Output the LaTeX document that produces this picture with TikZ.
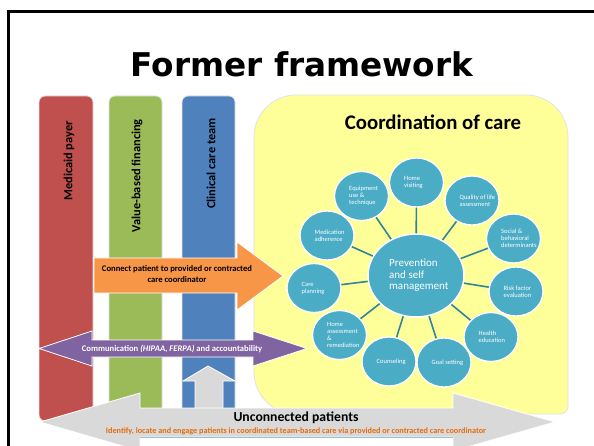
\documentclass[tikz,border=0pt]{standalone}
\usepackage{fontspec}
\setmainfont{Carlito}
\newfontfamily\titlefont{DejaVu Sans}
\usetikzlibrary{shapes.geometric}
\definecolor{cred}{HTML}{C0504D}
\definecolor{cgreen}{HTML}{9BBB59}
\definecolor{cblue}{HTML}{4F81BD}
\definecolor{corange}{HTML}{F79646}
\definecolor{cpurple}{HTML}{8064A2}
\definecolor{cteal}{HTML}{4BACC6}
\definecolor{cline}{HTML}{31849B}
\definecolor{cyellow}{HTML}{FFFF99}
\definecolor{cgray}{HTML}{D9D9D9}
\definecolor{ctxtorange}{HTML}{E46C0A}
\definecolor{cedge}{HTML}{E2E2E2}
\tikzset{
  barbox/.style={draw=cedge, line width=0.8, rounded corners=6},
  bartext/.style={font=\fontsize{12.4}{14}\selectfont\bfseries, rotate=90, anchor=east, inner sep=0},
  blockarrow/.style={draw=white, line width=0.8},
  bigcirc/.style={ellipse, fill=cteal, draw=white, line width=1.5, minimum width=96, minimum height=83, inner sep=0},
  smallcirc/.style={ellipse, fill=cteal, draw=white, line width=1.3, minimum width=54, minimum height=49, inner sep=0},
  conn/.style={draw=cline, line width=1.6},
  ctext/.style={font=\fontsize{6.5}{7}\selectfont, text=white, align=left, anchor=west, inner sep=0},
  arrowtext/.style={font=\fontsize{8.6}{11}\selectfont\bfseries, align=center, inner sep=0}
}
\begin{document}
\begin{tikzpicture}[x=1pt,y=-1pt]
\useasboundingbox (0,0) rectangle (594,446);
\clip (0,0) rectangle (594,446);
\fill[white] (0,0) rectangle (594,446);
% frame
\draw[line width=2.5] (8.5,11.5) rectangle (620,470);
% title
\node[font=\titlefont\bfseries\fontsize{32.7}{36}\selectfont, anchor=base, inner sep=0] (title) at (302,77) {Former framework};
% bars
\path[barbox, fill=cred] (39,96) rectangle (93,421);
\path[barbox, fill=cgreen] (109,96) rectangle (162,418);
\path[barbox, fill=cblue] (182,96) rectangle (235,418);
\node[bartext] (t1) at (69,121) {Medicaid payer};
\node[bartext] (t2) at (137,119) {Value-based financing};
\node[bartext] (t3) at (211,118) {Clinical care team};
% yellow panel
\path[fill=cyellow, draw=cedge, line width=0.8]
  (254,137) arc[start angle=180, end angle=270, radius=42]
  -- (526,95) arc[start angle=270, end angle=360, radius=42]
  -- (568,406) arc[start angle=0, end angle=90, radius=8]
  -- (296,414) arc[start angle=90, end angle=180, radius=42] -- cycle;
\node[font=\fontsize{20.8}{24}\selectfont\bfseries, anchor=base, inner sep=0] (coord) at (433,130) {Coordination of care};
% circles
\node[bigcirc] (c) at (416,275.5) {};
\node[smallcirc] (n1) at (416.5,182.5) {};
\node[smallcirc] (n2) at (361.5,196) {};
\node[smallcirc] (n3) at (472,200.5) {};
\node[smallcirc] (n4) at (327,235.5) {};
\node[smallcirc] (n5) at (513.5,238.5) {};
\node[smallcirc] (n6) at (314,288) {};
\node[smallcirc] (n7) at (516,291.5) {};
\node[smallcirc] (n8) at (339.5,335) {};
\node[smallcirc] (n9) at (389,361.5) {};
\node[smallcirc] (n10) at (444,362.5) {};
\node[smallcirc] (n11) at (491,337) {};
\foreach \n in {n1,n2,n3,n4,n5,n6,n7,n8,n9,n10,n11} {\draw[conn] (c) -- (\n);}
\node[font=\fontsize{11}{11.5}\selectfont, text=white, align=left, anchor=west, inner sep=0] (ct) at ([xshift=-27]c.center) {Prevention\\and self\\management};
\node[ctext] (l1) at ([xshift=-12.5]n1.center) {Home\\visiting};
\node[ctext] (l2) at ([xshift=-12.5]n2.center) {Equipment\\use \&\\technique};
\node[ctext] (l3) at ([xshift=-12.5]n3.center) {Quality of life\\assessment};
\node[ctext] (l4) at ([xshift=-12.5]n4.center) {Medication\\adherence};
\node[ctext] (l5) at ([xshift=-12.5]n5.center) {Social \&\\behavioral\\determinants};
\node[ctext] (l6) at ([xshift=-12.5]n6.center) {Care\\planning};
\node[ctext] (l7) at ([xshift=-12.5]n7.center) {Risk factor\\evaluation};
\node[ctext] (l8) at ([xshift=-12.5]n8.center) {Home\\assessment\\\&\\remediation};
\node[ctext] (l9) at ([xshift=-12.5]n9.center) {Counseling};
\node[ctext] (l10) at ([xshift=-12.5]n10.center) {Goal setting};
\node[ctext] (l11) at ([xshift=-12.5]n11.center) {Health\\education};
% orange arrow
\path[blockarrow, fill=corange] (94,258) -- (237,258) -- (237,242) -- (283,276) -- (237,310) -- (237,293) -- (94,293) -- cycle;
\node[arrowtext] (ot) at (177,274) {Connect patient to provided or contracted\\care coordinator};
% purple arrow
\path[blockarrow, fill=cpurple] (39,348.5) -- (92,331) -- (92,340) -- (253,340) -- (253,331) -- (307,348.5) -- (253,366) -- (253,357) -- (92,357) -- (92,366) -- cycle;
\node[arrowtext, text=white] (pt) at (172,348.5) {Communication \textit{(HIPAA, FERPA)} and accountability};
% up arrow
\path[blockarrow, fill=cgray] (195,410) -- (195,381) -- (183,381) -- (208,366) -- (235,381) -- (223,381) -- (223,410) -- cycle;
% big gray double arrow
\path[blockarrow, fill=cgray] (40,422) -- (140,393) -- (140,408) -- (453,408) -- (453,393) -- (555,422) -- (453,451) -- (453,437) -- (140,437) -- (140,451) -- cycle;
\draw[line width=0.6, draw=cline!50] (140,437.5) -- (453,437.5);
\node[font=\fontsize{13.7}{15}\selectfont\bfseries, anchor=base, inner sep=0] (ut) at (296,421.5) {Unconnected patients};
\node[font=\fontsize{8.2}{9}\selectfont\bfseries, text=ctxtorange, anchor=base, inner sep=0] (it) at (296,433.5) {Identify, locate and engage patients in coordinated team-based care via provided or contracted care coordinator};
\end{tikzpicture}
\end{document}
